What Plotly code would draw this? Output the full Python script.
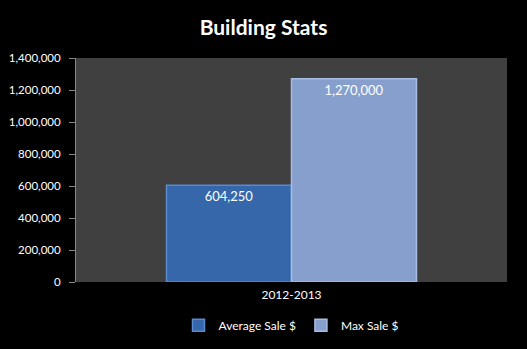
import plotly.graph_objects as go

categories = ["2012-2013"]
series_names = ["Average Sale $", "Max Sale $"]
avg_sale = [604250]
max_sale = [1270000]
y_ticks = [0, 200000, 400000, 600000, 800000, 1000000, 1200000, 1400000]

colors = ["#3567aa", "#879fcd"]
borders = ["#5a8ad0", "#a9bde2"]

fig = go.Figure()
for name, vals, c, b in zip(series_names, [avg_sale, max_sale], colors, borders):
    fig.add_trace(go.Bar(
        x=categories, y=vals, name=name,
        marker=dict(color=c, line=dict(color=b, width=1.5)),
        text=[f"{v:,}" for v in vals],
        textposition="inside", insidetextanchor="end",
        textfont=dict(color="white", size=13, family="Lato"),
        textangle=0,
    ))

fig.update_layout(
    width=527, height=349,
    margin=dict(l=76, r=20, t=58, b=67, autoexpand=False),
    paper_bgcolor="black", plot_bgcolor="#404040",
    title=dict(text="<b>Building Stats</b>", x=0.5, xanchor="center", y=0.92, yanchor="middle",
               font=dict(color="white", size=21, family="Lato")),
    barmode="group", bargap=0.42, bargroupgap=0,
    font=dict(family="Lato", color="white", size=12),
    showlegend=True,
    legend=dict(orientation="h", x=0.5, xanchor="center", yref="container", y=0.068, yanchor="middle",
                font=dict(color="white", size=12, family="Lato"), bgcolor="rgba(0,0,0,0)",
                itemwidth=30),
    yaxis=dict(range=[0, 1400000], tickvals=y_ticks, tickformat=",d",
               showgrid=False, zeroline=False, showline=True, linecolor="#888888", linewidth=1,
               ticks="outside", ticklen=6, tickcolor="#888888", ticklabelstandoff=6,
               tickfont=dict(color="white", size=11.5, family="Lato")),
    xaxis=dict(showgrid=False, showline=False, ticks="", ticklabelstandoff=4,
               tickfont=dict(color="white", size=12, family="Lato")),
)

fig.write_html("out.html")
